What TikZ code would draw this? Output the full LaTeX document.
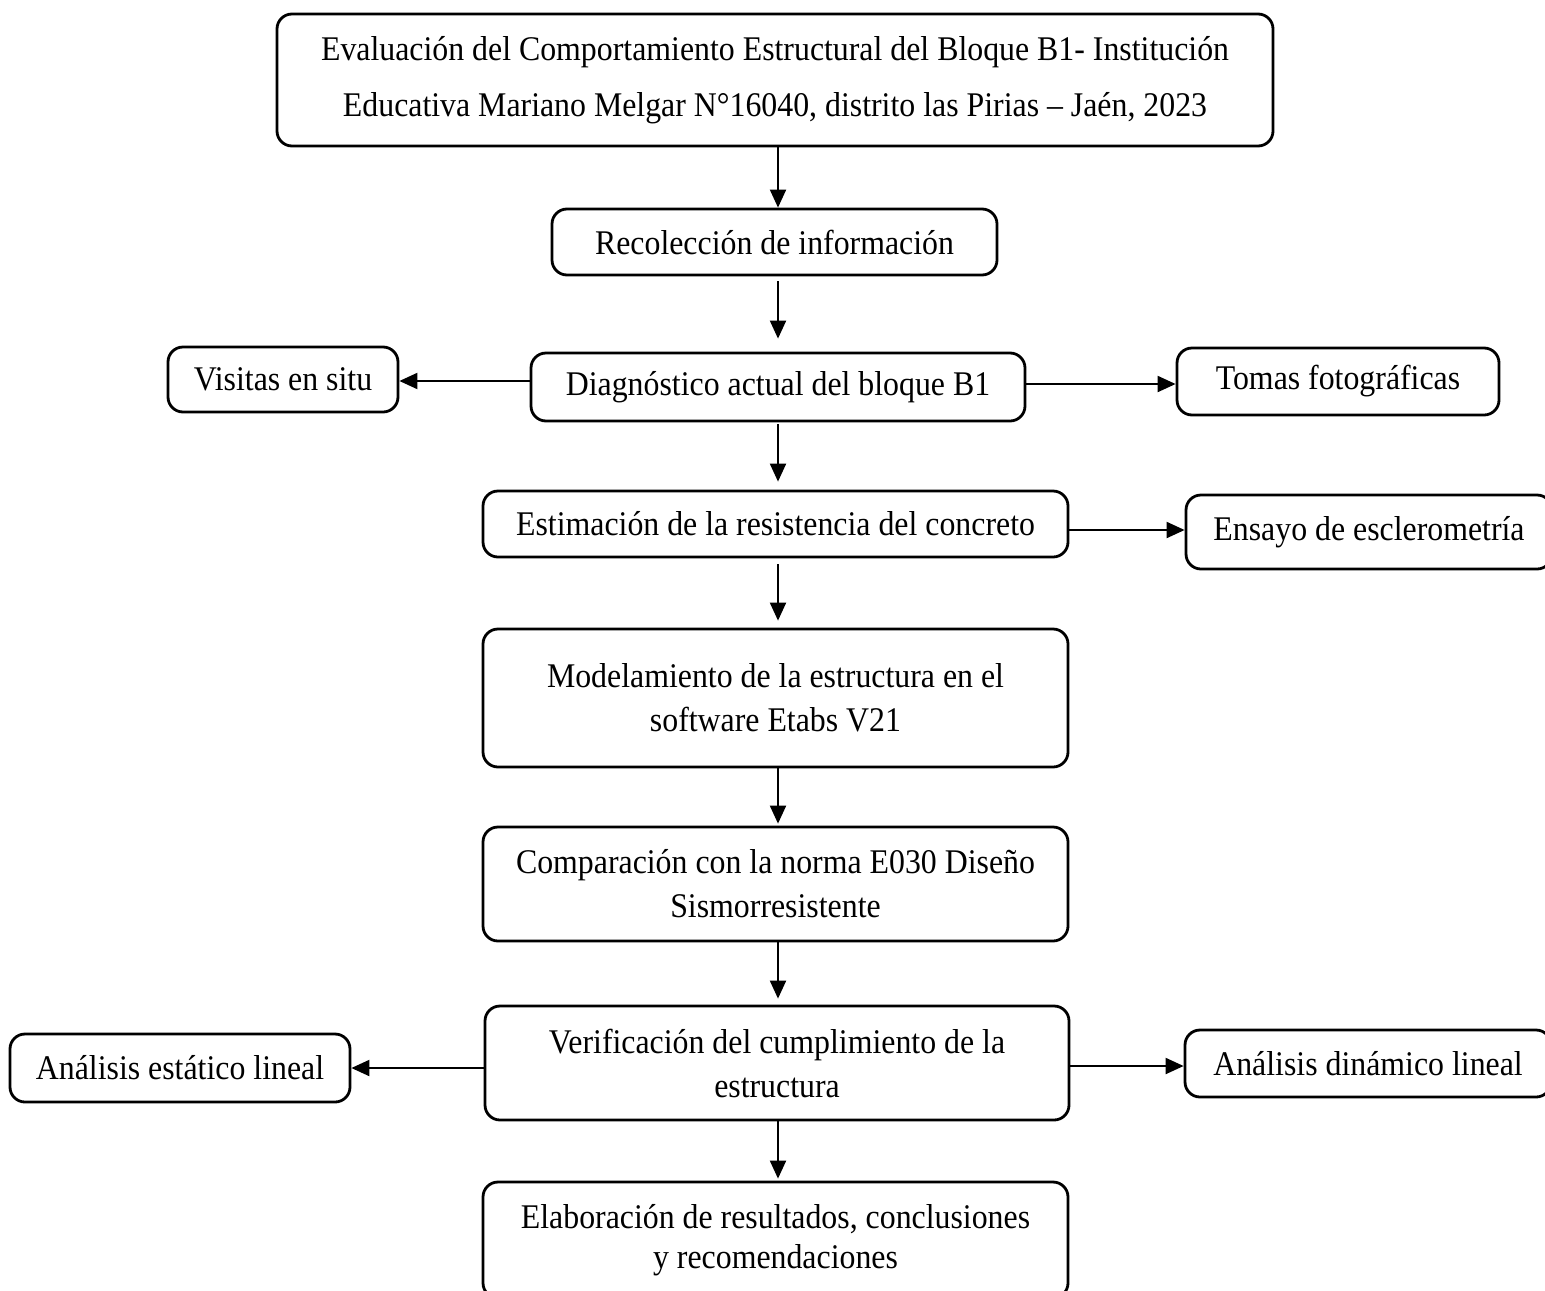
\documentclass[tikz,border=0pt]{standalone}
\usepackage{fontspec}
\setmainfont{Liberation Serif}[FakeStretch=0.92]
\usetikzlibrary{arrows.meta}
\begin{document}
\begin{tikzpicture}[x=0.5pt,y=-0.5pt,
  box/.style={draw=black,line width=1.4pt,rounded corners=7.5pt,inner sep=0pt,
    align=center,font=\fontsize{17.3pt}{22pt}\selectfont},
  arr/.style={line width=1pt,-{Triangle[length=9pt,width=8pt]}}]
\useasboundingbox (0,0) rectangle (1545,1290);
\clip (0,0) rectangle (1545,1290);
\node[box,minimum width=498pt,minimum height=66pt,font=\fontsize{17.3pt}{28pt}\selectfont] (title) at (775,80)
  {Evaluación del Comportamiento Estructural del Bloque B1- Institución\\Educativa Mariano Melgar N°16040, distrito las Pirias – Jaén, 2023};
\node[box,minimum width=222.5pt,minimum height=33pt] (rec) at (774.5,242) {Recolección de información};
\node[box,minimum width=247pt,minimum height=34pt] (diag) at (778,387) {Diagnóstico actual del bloque B1};
\node[box,minimum width=115pt,minimum height=32.5pt] (vis) at (283,379.5) {Visitas en situ};
\node[box,minimum width=161pt,minimum height=33.5pt] (tomas) at (1338,381.5) {Tomas fotográficas};
\node[box,minimum width=292.5pt,minimum height=33pt] (est) at (775.5,524) {Estimación de la resistencia del concreto};
\node[box,minimum width=183pt,minimum height=37pt] (ens) at (1369,532) {Ensayo de esclerometría};
\node[box,minimum width=292.5pt,minimum height=69pt] (mod) at (775.5,698) {Modelamiento de la estructura en el\\software Etabs V21};
\node[box,minimum width=292.5pt,minimum height=57pt] (comp) at (775.5,884) {Comparación con la norma E030 Diseño\\Sismorresistente};
\node[box,minimum width=292pt,minimum height=57pt] (ver) at (777,1063) {Verificación del cumplimiento de la\\estructura};
\node[box,minimum width=170pt,minimum height=34pt] (estlin) at (180,1068) {Análisis estático lineal};
\node[box,minimum width=183pt,minimum height=33.5pt] (din) at (1368,1063.5) {Análisis dinámico lineal};
\node[box,minimum width=292.5pt,minimum height=58pt,font=\fontsize{17.3pt}{20pt}\selectfont] (elab) at (775.5,1240) {Elaboración de resultados, conclusiones\\y recomendaciones};
% vertical arrows
\draw[arr] (title.south -| diag) -- (rec.north -| diag);
\draw[arr,shorten <=2.5pt,shorten >=6.5pt] (rec.south -| diag) -- (diag.north);
\draw[arr,shorten <=1pt,shorten >=4pt] (diag.south) -- (est.north -| diag);
\draw[arr,shorten <=3pt,shorten >=3.5pt] (est.south -| diag) -- (mod.north -| diag);
\draw[arr,shorten >=1pt] (mod.south -| diag) -- (comp.north -| diag);
\draw[arr,shorten >=3pt] (comp.south -| diag) -- (ver.north -| diag);
\draw[arr,shorten >=1pt] (ver.south -| diag) -- (elab.north -| diag);
% horizontal arrows
\draw[arr] (diag.west |- 0,381) -- (vis.east |- 0,381);
\draw[arr] (diag.east |- 0,384) -- (tomas.west |- 0,384);
\draw[arr] (est.east |- 0,530) -- (ens.west |- 0,530);
\draw[arr] (ver.west |- 0,1068) -- (estlin.east |- 0,1068);
\draw[arr] (ver.east |- 0,1066) -- (din.west |- 0,1066);
\end{tikzpicture}
\end{document}
